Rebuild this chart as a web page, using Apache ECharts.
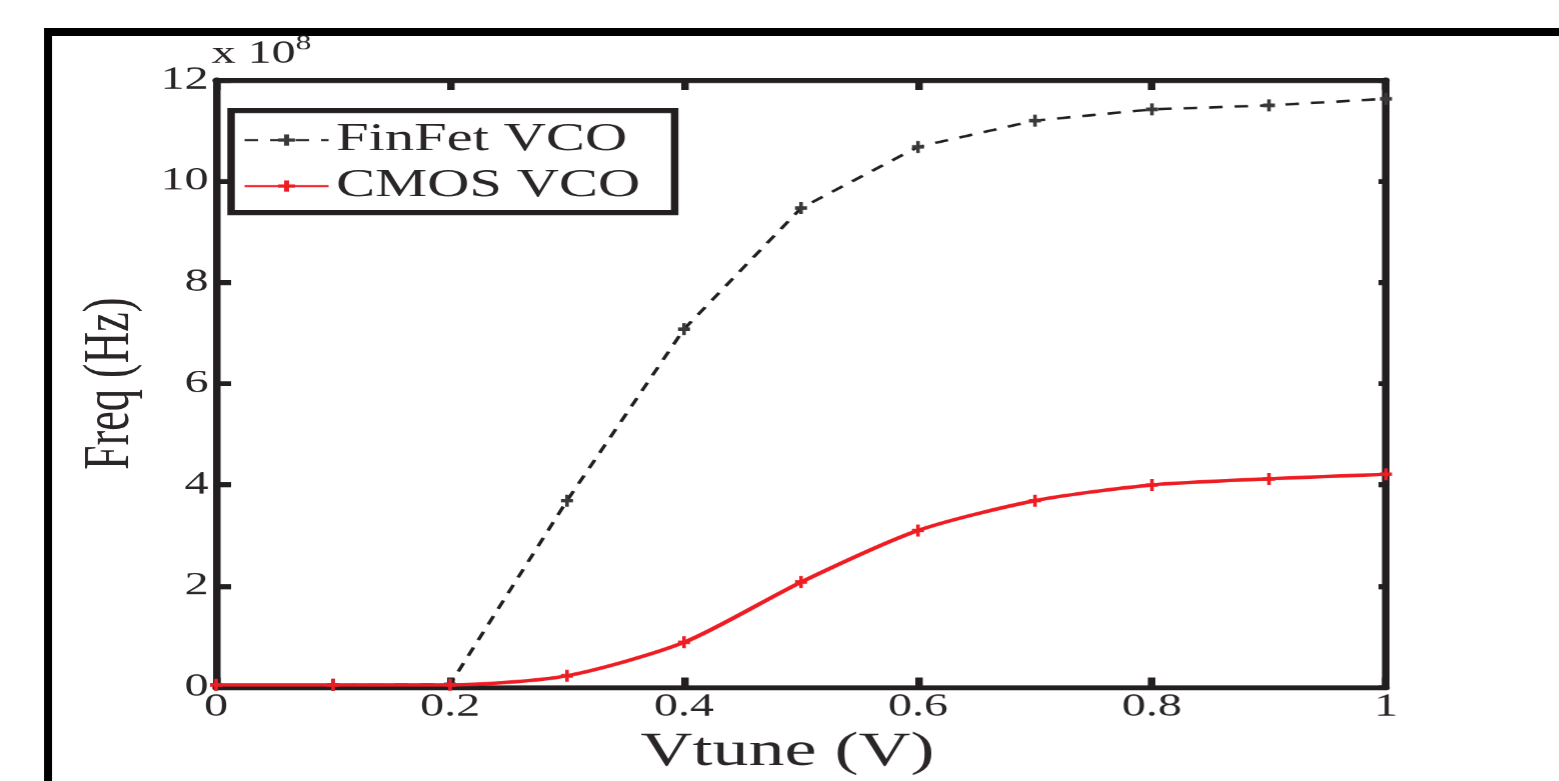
<!DOCTYPE html>
<html>
<head>
<meta charset="utf-8">
<script src="https://cdn.jsdelivr.net/npm/echarts@6/dist/echarts.min.js"></script>
<style>
  html, body { margin: 0; padding: 0; background: #ffffff; overflow: hidden; }
  #wrap { width: 1559px; height: 781px; overflow: hidden; position: relative; }
  #chart { width: 1039.33px; height: 781px; transform: scaleX(1.5); transform-origin: 0 0; position: absolute; left: 0; top: 0; }
</style>
</head>
<body>
<div id="wrap"><div id="chart"></div></div>
<script>
// ---- data (frequency in units of 1e8 Hz) ----
const vtune = [0, 0.1, 0.2, 0.3, 0.4, 0.5, 0.6, 0.7, 0.8, 0.9, 1.0];
const finfetFreq = [0.05, 0.05, 0.06, 3.69, 7.08, 9.47, 10.68, 11.2, 11.42, 11.5, 11.63];
const cmosFreq = [0.05, 0.05, 0.05, 0.23, 0.89, 2.08, 3.1, 3.69, 4.0, 4.12, 4.21];
const seriesNames = ['FinFet VCO', 'CMOS VCO'];
const xTickLabels = ['0', '0.2', '0.4', '0.6', '0.8', '1'];
const yTickLabels = ['0', '2', '4', '6', '8', '10', '12'];
const xAxisName = 'Vtune (V)';
const yAxisName = 'Freq (Hz)';
const exponentBase = 'x 10';
const exponentPower = '8';

const ink = '#231f20';
const txt = '#2a2628';
const serif = 'Liberation Serif';
const plusPath = 'path://M3.5,0h3v3.5h3.5v3h-3.5v3.5h-3v-3.5h-3.5v-3h3.5z';

const chart = echarts.init(document.getElementById('chart'), null, { renderer: 'canvas', devicePixelRatio: 1.5 });

const axisLineStyle = { color: ink, width: 5 };

const option = {
  animation: false,
  backgroundColor: '#ffffff',
  title: {
    text: exponentBase + '{sup|' + exponentPower + '}',
    left: 141, top: 33,
    padding: 0,
    textStyle: {
      fontFamily: serif, fontSize: 32, fontWeight: 'normal', color: txt, lineHeight: 42,
      rich: { sup: { fontFamily: serif, fontSize: 21, color: txt, verticalAlign: 'top', lineHeight: 17 } }
    }
  },
  graphic: [
    { type: 'rect', z: -10, shape: { x: 29.33, y: 28, width: 5.33, height: 800 }, style: { fill: '#000000' } },
    { type: 'rect', z: -10, shape: { x: 29.33, y: 28, width: 1020, height: 8 }, style: { fill: '#000000' } }
  ],
  legend: {
    data: seriesNames,
    orient: 'vertical',
    left: 154, top: 110.5,
    padding: [10, 23, 7, 8],
    itemGap: 7,
    itemWidth: 56, itemHeight: 14,
    borderColor: ink, borderWidth: 5, borderRadius: 0,
    backgroundColor: '#ffffff',
    textStyle: { fontFamily: serif, fontSize: 39, color: txt }
  },
  grid: { left: 144, right: 115.33, top: 80, bottom: 83, containLabel: false },
  xAxis: [
    {
      type: 'value', min: 0, max: 1, interval: 0.2, position: 'bottom',
      axisLine: { onZero: false, lineStyle: axisLineStyle },
      axisTick: { inside: true, length: 10, lineStyle: { color: ink, width: 5 } },
      axisLabel: { fontFamily: serif, fontSize: 32, color: txt, margin: 4,
        formatter: (v, i) => xTickLabels[i] },
      splitLine: { show: false },
      name: xAxisName, nameLocation: 'middle', nameGap: 30,
      nameTextStyle: { fontFamily: serif, fontSize: 48, color: txt, padding: [0, 18, 0, 0] }
    },
    {
      type: 'value', min: 0, max: 1, interval: 0.2, position: 'top',
      axisLine: { onZero: false, lineStyle: axisLineStyle },
      axisTick: { inside: true, length: 10, lineStyle: { color: ink, width: 5 } },
      axisLabel: { show: false },
      splitLine: { show: false }
    }
  ],
  yAxis: [
    {
      type: 'value', min: 0, max: 12, interval: 2, position: 'left',
      axisLine: { show: true, onZero: false, lineStyle: axisLineStyle },
      axisTick: { show: true, inside: true, length: 10, lineStyle: { color: ink, width: 5 } },
      axisLabel: { fontFamily: serif, fontSize: 32, color: txt, margin: 5,
        formatter: (v, i) => yTickLabels[i] },
      splitLine: { show: false },
      name: yAxisName, nameLocation: 'middle', nameGap: 41,
      nameTextStyle: { fontFamily: serif, fontSize: 44, color: txt }
    },
    {
      type: 'value', min: 0, max: 12, interval: 2, position: 'right',
      axisLine: { show: true, onZero: false, lineStyle: axisLineStyle },
      axisTick: { show: true, inside: true, length: 5, lineStyle: { color: ink, width: 5 } },
      axisLabel: { show: false },
      splitLine: { show: false }
    }
  ],
  series: [
    {
      name: seriesNames[0], type: 'line', xAxisIndex: 0, yAxisIndex: 0,
      data: vtune.map((x, i) => [x, finfetFreq[i]]),
      smooth: false,
      symbol: plusPath, symbolSize: [8, 12],
      itemStyle: { color: '#3a3a3a' },
      lineStyle: { color: ink, width: 2.5, type: [9, 8] },
      z: 2
    },
    {
      name: seriesNames[1], type: 'line', xAxisIndex: 0, yAxisIndex: 0,
      data: vtune.map((x, i) => [x, cmosFreq[i]]),
      smooth: 0.25,
      symbol: plusPath, symbolSize: [8, 12],
      itemStyle: { color: '#ee1d24' },
      lineStyle: { color: '#ee1d24', width: 3.5 },
      z: 3
    }
  ]
};
chart.setOption(option);
</script>
</body>
</html>
